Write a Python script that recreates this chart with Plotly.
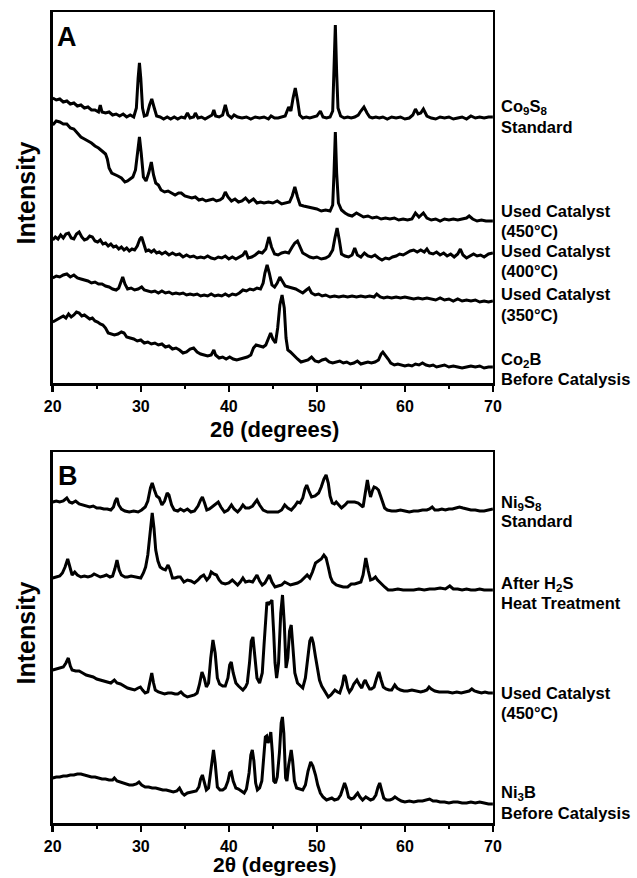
import plotly.graph_objects as go

# ---------------- DATA (2theta, stacked intensity in plot units) ----------------
# Panel A : Co system
co9s8_standard = [
    (20.0, 285), (20.4, 283), (20.8, 284), (21.2, 281), (21.6, 282), (22.0, 279), (22.4, 280), (22.8, 277),
    (23.2, 278), (23.6, 275), (24.0, 276), (24.4, 273), (24.8, 273), (25.2, 271), (25.4, 278), (25.6, 271),
    (26.0, 270), (26.4, 271), (26.8, 268), (27.2, 269), (27.6, 267), (28.0, 269), (28.4, 266), (28.8, 268),
    (29.2, 266), (29.5, 275), (29.7, 305), (29.85, 320), (30.0, 305), (30.2, 275), (30.4, 267), (30.7, 268),
    (31.0, 278), (31.25, 284), (31.5, 276), (31.8, 267), (32.2, 266), (32.6, 264), (33.0, 266), (33.4, 264),
    (33.8, 266), (34.2, 264), (34.6, 266), (35.0, 265), (35.3, 270), (35.6, 265), (36.0, 266), (36.2, 270),
    (36.5, 265), (36.9, 266), (37.3, 264), (37.8, 266), (38.1, 268), (38.3, 273), (38.5, 267), (38.9, 266),
    (39.3, 268), (39.6, 278), (39.9, 268), (40.3, 265), (40.6, 268), (41.0, 266), (41.5, 265), (42.0, 266),
    (42.5, 264), (43.0, 266), (43.5, 265), (44.0, 266), (44.5, 264), (44.8, 267), (45.2, 265), (45.6, 265),
    (46.0, 266), (46.4, 267), (46.8, 276), (47.05, 272), (47.3, 285), (47.55, 295), (47.8, 283), (48.05, 268),
    (48.4, 265), (48.8, 266), (49.2, 265), (49.6, 266), (50.0, 267), (50.4, 272), (50.7, 266), (51.1, 265),
    (51.5, 266), (51.8, 272), (51.95, 310), (52.1, 358), (52.25, 310), (52.4, 275), (52.7, 267), (53.1, 265),
    (53.5, 266), (53.9, 265), (54.3, 266), (54.7, 268), (55.0, 272), (55.35, 276), (55.7, 270), (56.0, 266),
    (56.3, 265), (56.7, 266), (57.1, 265), (57.5, 266), (58.0, 264), (58.5, 266), (59.0, 265), (59.5, 266),
    (60.0, 264), (60.5, 265), (60.9, 268), (61.2, 274), (61.5, 269), (61.8, 270), (62.1, 274), (62.5, 267),
    (63.0, 265), (63.5, 264), (64.0, 266), (64.5, 265), (65.0, 266), (65.5, 264), (66.0, 265), (66.5, 266),
    (67.0, 264), (67.5, 267), (68.0, 265), (68.5, 266), (69.0, 265), (69.5, 266), (70.0, 266),
]

co_used_450 = [
    (20.0, 258), (20.4, 262), (20.8, 261), (21.2, 259), (21.6, 259), (22.0, 255), (22.4, 254), (22.8, 250),
    (23.2, 246), (23.6, 244), (24.0, 242), (24.4, 240), (24.8, 237), (25.2, 235), (25.6, 232), (26.0, 229),
    (26.2, 224), (26.4, 215), (26.7, 210), (27.0, 209), (27.4, 207), (27.8, 205), (28.2, 201), (28.5, 202),
    (28.8, 204), (29.1, 206), (29.4, 213), (29.6, 230), (29.85, 246), (30.05, 230), (30.3, 206), (30.6, 202),
    (30.9, 210), (31.2, 221), (31.45, 208), (31.7, 200), (32.0, 198), (32.3, 193), (32.7, 191), (33.1, 192),
    (33.5, 190), (33.9, 188), (34.3, 190), (34.6, 190), (35.0, 187), (35.4, 186), (35.8, 185), (36.2, 186),
    (36.6, 183), (37.0, 184), (37.4, 182), (37.8, 183), (38.2, 184), (38.6, 182), (39.0, 183), (39.3, 185),
    (39.6, 191), (39.9, 186), (40.3, 182), (40.7, 184), (41.1, 181), (41.5, 182), (41.9, 185), (42.3, 181),
    (42.8, 184), (43.2, 180), (43.6, 181), (44.0, 180), (44.5, 181), (45.0, 180), (45.5, 182), (46.0, 179),
    (46.5, 180), (46.9, 181), (47.2, 187), (47.5, 196), (47.8, 186), (48.1, 178), (48.5, 177), (49.0, 176),
    (49.5, 175), (50.0, 174), (50.5, 172), (51.0, 173), (51.5, 172), (51.8, 178), (51.95, 210), (52.1, 251),
    (52.25, 210), (52.45, 180), (52.8, 173), (53.2, 170), (53.6, 168), (54.0, 167), (54.5, 170), (54.9, 168),
    (55.3, 166), (55.8, 167), (56.3, 165), (56.8, 166), (57.3, 164), (57.8, 165), (58.3, 164), (58.8, 165),
    (59.3, 163), (59.8, 164), (60.3, 163), (60.8, 164), (61.2, 170), (61.6, 166), (62.1, 170), (62.5, 165),
    (63.0, 163), (63.5, 164), (64.0, 162), (64.5, 164), (65.0, 163), (65.5, 164), (66.0, 163), (66.5, 164),
    (67.0, 165), (67.3, 167), (67.7, 164), (68.2, 162), (68.7, 163), (69.2, 162), (70.0, 162),
]

co_used_400 = [
    (20.0, 143), (20.3, 146), (20.6, 144), (20.9, 148), (21.2, 145), (21.5, 149), (21.8, 150), (22.1, 145),
    (22.4, 144), (22.7, 149), (23.0, 151), (23.3, 146), (23.6, 143), (23.9, 144), (24.2, 147), (24.5, 146),
    (24.8, 142), (25.1, 141), (25.4, 143), (25.7, 139), (26.0, 140), (26.3, 137), (26.6, 139), (26.9, 136),
    (27.2, 137), (27.5, 134), (27.8, 136), (28.1, 133), (28.4, 135), (28.7, 132), (29.0, 134), (29.3, 133),
    (29.6, 137), (29.9, 144), (30.1, 146), (30.35, 138), (30.6, 132), (30.9, 133), (31.2, 131), (31.5, 133),
    (31.8, 130), (32.1, 131), (32.4, 129), (32.8, 131), (33.2, 128), (33.6, 130), (34.0, 128), (34.4, 129),
    (34.8, 126), (35.2, 128), (35.6, 126), (36.0, 127), (36.4, 125), (36.8, 126), (37.2, 125), (37.6, 127),
    (38.0, 125), (38.4, 124), (38.8, 126), (39.2, 125), (39.6, 127), (40.0, 124), (40.4, 126), (40.8, 124),
    (41.2, 126), (41.6, 128), (41.9, 132), (42.2, 125), (42.6, 126), (43.0, 128), (43.4, 131), (43.8, 130),
    (44.2, 134), (44.55, 146), (44.85, 136), (45.2, 129), (45.6, 128), (46.0, 130), (46.4, 131), (46.8, 130),
    (47.2, 136), (47.5, 140), (47.8, 142), (48.1, 136), (48.4, 130), (48.8, 128), (49.2, 126), (49.6, 125),
    (50.0, 126), (50.5, 124), (51.0, 125), (51.4, 127), (51.8, 133), (52.05, 145), (52.3, 155), (52.55, 143),
    (52.8, 129), (53.2, 127), (53.6, 126), (54.0, 128), (54.3, 135), (54.6, 128), (55.0, 126), (55.4, 130),
    (55.8, 127), (56.2, 126), (56.6, 128), (57.0, 125), (57.4, 123), (57.8, 125), (58.2, 124), (58.6, 126),
    (59.0, 127), (59.4, 129), (59.8, 128), (60.2, 130), (60.6, 132), (61.0, 133), (61.4, 131), (61.8, 133),
    (62.2, 131), (62.5, 134), (62.8, 130), (63.2, 129), (63.6, 131), (64.0, 128), (64.4, 130), (64.8, 127),
    (65.2, 129), (65.6, 126), (66.0, 129), (66.3, 134), (66.6, 128), (67.0, 125), (67.4, 127), (67.8, 129),
    (68.2, 127), (68.6, 128), (69.0, 126), (69.5, 129), (70.0, 130),
]

co_used_350 = [
    (20.0, 105), (20.4, 107), (20.8, 106), (21.2, 108), (21.6, 109), (22.0, 106), (22.4, 108), (22.8, 105),
    (23.2, 104), (23.6, 103), (24.0, 102), (24.4, 100), (24.8, 101), (25.2, 99), (25.6, 99), (26.0, 97),
    (26.4, 96), (26.8, 94), (27.2, 93), (27.5, 95), (27.75, 102), (27.95, 106), (28.2, 99), (28.5, 94),
    (28.9, 95), (29.3, 93), (29.7, 94), (30.1, 96), (30.4, 93), (30.8, 92), (31.2, 91), (31.6, 92),
    (32.0, 90), (32.4, 92), (32.8, 90), (33.2, 91), (33.6, 89), (34.0, 90), (34.4, 89), (34.8, 90),
    (35.2, 88), (35.6, 89), (36.0, 88), (36.4, 89), (36.8, 87), (37.2, 88), (37.6, 87), (38.0, 89),
    (38.4, 87), (38.8, 88), (39.2, 87), (39.6, 89), (40.0, 87), (40.4, 89), (40.8, 88), (41.2, 90),
    (41.6, 93), (42.0, 92), (42.4, 94), (42.8, 93), (43.2, 95), (43.6, 94), (43.9, 100), (44.1, 110),
    (44.35, 118), (44.6, 110), (44.9, 98), (45.2, 96), (45.5, 100), (45.8, 106), (46.1, 102), (46.4, 97),
    (46.8, 96), (47.2, 95), (47.6, 94), (48.0, 92), (48.4, 90), (48.8, 93), (49.1, 95), (49.4, 90),
    (49.8, 88), (50.2, 89), (50.6, 87), (51.0, 88), (51.5, 86), (52.0, 87), (52.5, 86), (53.0, 87),
    (53.5, 86), (54.0, 87), (54.5, 86), (55.0, 87), (55.5, 86), (56.0, 87), (56.5, 86), (56.8, 89),
    (57.2, 86), (57.6, 85), (58.0, 86), (58.5, 85), (59.0, 86), (59.5, 85), (60.0, 86), (60.5, 85),
    (61.0, 84), (61.5, 85), (62.0, 84), (62.5, 85), (63.0, 84), (63.5, 83), (64.0, 85), (64.5, 83),
    (65.0, 84), (65.5, 82), (66.0, 84), (66.5, 82), (67.0, 83), (67.5, 82), (68.0, 83), (68.5, 81),
    (69.0, 82), (69.5, 81), (70.0, 82),
]

co2b_before = [
    (20.0, 61), (20.4, 63), (20.8, 65), (21.2, 67), (21.5, 65), (21.8, 69), (22.1, 66), (22.4, 68),
    (22.7, 71), (23.0, 70), (23.3, 67), (23.6, 68), (23.9, 66), (24.2, 64), (24.5, 65), (24.8, 62),
    (25.1, 61), (25.4, 59), (25.7, 58), (26.0, 55), (26.3, 50), (26.6, 49), (27.0, 48), (27.4, 49),
    (27.8, 51), (28.1, 50), (28.4, 46), (28.8, 45), (29.2, 44), (29.6, 42), (30.0, 43), (30.4, 40),
    (30.8, 41), (31.2, 39), (31.6, 40), (32.0, 38), (32.4, 39), (32.8, 36), (33.2, 37), (33.6, 34),
    (34.0, 35), (34.4, 33), (34.8, 30), (35.2, 31), (35.6, 34), (36.0, 35), (36.4, 31), (36.8, 29),
    (37.2, 28), (37.6, 27), (38.0, 28), (38.3, 33), (38.5, 28), (38.9, 25), (39.3, 26), (39.7, 24),
    (40.1, 26), (40.5, 24), (40.9, 23), (41.3, 24), (41.7, 25), (42.1, 26), (42.5, 28), (42.8, 35),
    (43.1, 38), (43.5, 37), (43.9, 36), (44.2, 38), (44.5, 45), (44.75, 50), (45.0, 44), (45.3, 40),
    (45.55, 55), (45.8, 78), (46.05, 88), (46.3, 75), (46.5, 45), (46.7, 33), (47.0, 31), (47.4, 27),
    (47.8, 24), (48.2, 21), (48.6, 22), (49.0, 23), (49.4, 26), (49.8, 22), (50.2, 21), (50.6, 23),
    (51.0, 24), (51.4, 21), (51.8, 20), (52.2, 21), (52.6, 22), (53.0, 20), (53.4, 21), (53.8, 19),
    (54.2, 20), (54.6, 22), (55.0, 19), (55.4, 20), (55.8, 21), (56.2, 20), (56.6, 21), (57.0, 23),
    (57.3, 29), (57.5, 31), (57.8, 28), (58.1, 24), (58.4, 20), (58.8, 18), (59.2, 19), (59.6, 18),
    (60.0, 17), (60.4, 18), (60.8, 17), (61.2, 19), (61.6, 18), (62.0, 20), (62.4, 18), (62.8, 17),
    (63.2, 18), (63.6, 16), (64.0, 17), (64.5, 18), (65.0, 16), (65.5, 17), (66.0, 16), (66.5, 15),
    (67.0, 16), (67.5, 17), (68.0, 16), (68.5, 17), (69.0, 15), (69.5, 16), (70.0, 16),
]

# Panel B : Ni system
ni9s8_standard = [
    (20.0, 321), (20.4, 322), (20.8, 321), (21.2, 322), (21.6, 325), (21.9, 321), (22.2, 320), (22.6, 322),
    (23.0, 319), (23.4, 318), (23.8, 317), (24.2, 316), (24.6, 317), (25.0, 315), (25.4, 315), (25.8, 314),
    (26.2, 314), (26.6, 313), (26.9, 316), (27.1, 322), (27.3, 325), (27.5, 318), (27.8, 314), (28.2, 312),
    (28.7, 311), (29.2, 312), (29.7, 311), (30.1, 313), (30.5, 316), (30.8, 322), (31.1, 335), (31.3, 340),
    (31.55, 333), (31.8, 327), (32.1, 325), (32.4, 318), (32.7, 322), (33.0, 330), (33.2, 328), (33.5, 318),
    (33.8, 313), (34.2, 312), (34.5, 314), (34.9, 312), (35.3, 314), (35.7, 311), (36.1, 312), (36.5, 317),
    (36.8, 323), (37.0, 326), (37.25, 320), (37.5, 313), (37.8, 314), (38.1, 316), (38.5, 319), (38.8, 321),
    (39.1, 316), (39.5, 311), (39.9, 313), (40.3, 318), (40.6, 314), (41.0, 311), (41.3, 314), (41.6, 318),
    (41.9, 315), (42.3, 315), (42.7, 317), (43.0, 321), (43.2, 323), (43.5, 318), (43.9, 313), (44.4, 311),
    (44.9, 311), (45.3, 311), (45.6, 311), (46.0, 313), (46.35, 318), (46.7, 315), (47.1, 313), (47.5, 317),
    (47.8, 321), (48.1, 320), (48.4, 325), (48.65, 334), (48.85, 338), (49.1, 332), (49.4, 326), (49.8, 327),
    (50.2, 330), (50.5, 336), (50.8, 344), (51.05, 348), (51.3, 340), (51.5, 327), (51.75, 320), (52.0, 319),
    (52.2, 321), (52.5, 318), (52.8, 315), (53.2, 318), (53.5, 321), (53.9, 321), (54.3, 321), (54.7, 320),
    (55.0, 318), (55.25, 316), (55.5, 330), (55.74, 343), (55.95, 332), (56.1, 326), (56.3, 332), (56.5, 336),
    (56.75, 335), (57.0, 333), (57.2, 328), (57.4, 322), (57.7, 315), (58.0, 313), (58.5, 312), (59.0, 312),
    (59.5, 313), (60.0, 312), (60.5, 311), (61.0, 312), (61.5, 312), (62.0, 313), (62.5, 313), (62.8, 314),
    (63.1, 316), (63.4, 313), (63.8, 313), (64.2, 314), (64.6, 313), (65.0, 314), (65.4, 314), (65.8, 315),
    (66.2, 316), (66.6, 315), (67.0, 314), (67.5, 313), (68.0, 313), (68.5, 312), (69.0, 312), (69.5, 313),
    (70.0, 314),
]

ni_after_h2s = [
    (20.0, 245), (20.4, 246), (20.8, 247), (21.1, 250), (21.4, 256), (21.7, 264), (21.95, 255), (22.2, 248),
    (22.5, 251), (22.8, 248), (23.2, 246), (23.6, 247), (24.0, 246), (24.4, 247), (24.7, 249), (25.0, 248),
    (25.4, 246), (25.8, 247), (26.1, 248), (26.5, 246), (26.8, 247), (27.05, 254), (27.3, 263), (27.55, 253),
    (27.8, 248), (28.2, 246), (28.5, 246), (28.9, 247), (29.3, 246), (29.7, 245), (30.0, 245), (30.3, 250),
    (30.55, 256), (30.8, 268), (31.05, 292), (31.3, 310), (31.5, 295), (31.7, 273), (31.95, 262), (32.2, 256),
    (32.5, 254), (32.8, 253), (33.1, 258), (33.3, 254), (33.6, 245), (33.9, 245), (34.2, 246), (34.5, 246),
    (34.9, 241), (35.3, 243), (35.7, 242), (36.1, 240), (36.5, 243), (36.8, 246), (37.15, 248), (37.5, 243),
    (37.8, 246), (38.0, 251), (38.3, 249), (38.6, 248), (38.9, 243), (39.2, 240), (39.6, 239), (40.0, 240),
    (40.4, 243), (40.7, 240), (41.0, 238), (41.3, 241), (41.6, 245), (41.9, 241), (42.3, 242), (42.7, 241),
    (43.0, 245), (43.2, 248), (43.5, 242), (43.8, 238), (44.1, 240), (44.3, 243), (44.6, 248), (44.9, 241),
    (45.25, 236), (45.6, 237), (46.0, 238), (46.35, 241), (46.7, 239), (47.0, 238), (47.4, 239), (47.8, 240),
    (48.2, 242), (48.5, 245), (48.9, 248), (49.2, 245), (49.5, 251), (49.85, 260), (50.2, 262), (50.5, 264),
    (50.8, 268), (51.05, 265), (51.3, 256), (51.55, 246), (51.8, 241), (52.2, 238), (52.6, 237), (53.0, 236),
    (53.5, 236), (53.9, 239), (54.3, 239), (54.7, 240), (55.0, 241), (55.25, 248), (55.56, 265), (55.85, 252),
    (56.1, 243), (56.4, 244), (56.66, 246), (56.9, 243), (57.3, 239), (57.7, 236), (58.1, 233), (58.6, 233),
    (59.2, 234), (59.8, 233), (60.4, 233), (61.0, 233), (61.6, 234), (62.2, 233), (62.8, 234), (63.4, 234),
    (64.0, 235), (64.6, 234), (65.1, 237), (65.5, 234), (66.0, 234), (66.5, 233), (67.0, 234), (67.5, 233),
    (68.0, 233), (68.5, 234), (69.0, 233), (69.5, 233), (70.0, 233),
]

ni_used_450 = [
    (20.0, 153), (20.4, 154), (20.8, 155), (21.2, 156), (21.5, 160), (21.77, 165), (22.0, 157), (22.2, 153),
    (22.6, 152), (23.0, 152), (23.4, 150), (23.8, 148), (24.2, 147), (24.6, 146), (25.0, 144), (25.4, 143),
    (25.8, 142), (26.2, 141), (26.6, 140), (27.0, 143), (27.3, 140), (27.7, 139), (28.1, 137), (28.5, 135),
    (28.9, 134), (29.3, 133), (29.7, 135), (29.96, 136), (30.2, 133), (30.5, 130), (30.8, 131), (31.05, 140),
    (31.25, 150), (31.45, 140), (31.65, 133), (32.0, 131), (32.3, 130), (32.7, 129), (33.1, 130), (33.5, 130),
    (33.9, 129), (34.2, 129), (34.56, 131), (34.9, 128), (35.3, 126), (35.7, 127), (36.1, 128), (36.4, 130),
    (36.65, 138), (36.95, 151), (37.2, 145), (37.45, 136), (37.7, 140), (37.95, 165), (38.2, 183), (38.45, 170),
    (38.7, 145), (38.95, 139), (39.3, 137), (39.6, 137), (39.9, 145), (40.1, 158), (40.28, 161), (40.5, 150),
    (40.8, 140), (41.1, 137), (41.4, 134), (41.6, 133), (41.9, 136), (42.1, 140), (42.35, 160), (42.55, 182),
    (42.74, 186), (42.95, 170), (43.2, 145), (43.5, 140), (43.8, 150), (44.0, 178), (44.2, 210), (44.33, 221),
    (44.5, 218), (44.6, 220), (44.75, 221), (44.9, 223), (45.1, 190), (45.25, 160), (45.43, 145), (45.65, 160),
    (45.9, 210), (46.1, 228), (46.3, 200), (46.5, 155), (46.7, 165), (46.9, 192), (47.09, 198), (47.3, 175),
    (47.5, 150), (47.8, 140), (48.1, 137), (48.4, 135), (48.7, 145), (48.95, 165), (49.2, 182), (49.4, 186),
    (49.6, 180), (49.85, 166), (50.05, 155), (50.3, 143), (50.55, 137), (50.8, 133), (51.1, 129), (51.3, 126),
    (51.6, 128), (51.85, 131), (52.05, 133), (52.35, 131), (52.6, 130), (52.9, 138), (53.1, 148), (53.25, 146),
    (53.5, 135), (53.7, 131), (53.95, 134), (54.2, 139), (54.55, 143), (54.85, 138), (55.1, 135), (55.35, 141),
    (55.5, 143), (55.75, 138), (56.0, 134), (56.2, 134), (56.5, 136), (56.8, 145), (57.05, 151), (57.3, 143),
    (57.55, 136), (57.85, 134), (58.2, 133), (58.5, 133), (58.85, 138), (59.1, 135), (59.5, 133), (59.9, 132),
    (60.3, 132), (60.8, 133), (61.3, 132), (61.8, 131), (62.2, 132), (62.5, 133), (62.75, 136), (63.0, 134),
    (63.4, 132), (63.9, 131), (64.4, 131), (64.9, 131), (65.4, 130), (65.9, 131), (66.4, 130), (66.9, 131),
    (67.3, 132), (67.6, 134), (67.9, 132), (68.3, 131), (68.7, 130), (69.1, 131), (69.5, 130), (70.0, 130),
]

ni3b_before = [
    (20.0, 45), (20.4, 46), (20.8, 46), (21.2, 47), (21.6, 47), (22.0, 48), (22.4, 48), (22.8, 49),
    (23.2, 49), (23.6, 48), (24.0, 47), (24.4, 46), (24.8, 46), (25.2, 45), (25.6, 44), (26.0, 44),
    (26.4, 43), (26.8, 43), (27.0, 45), (27.3, 42), (27.6, 41), (27.9, 40), (28.3, 39), (28.7, 38),
    (29.1, 38), (29.5, 39), (29.8, 41), (30.1, 38), (30.5, 36), (30.9, 36), (31.3, 35), (31.7, 35),
    (32.1, 34), (32.5, 33), (32.9, 33), (33.3, 32), (33.7, 31), (34.1, 32), (34.4, 35), (34.7, 30),
    (34.95, 28), (35.3, 30), (35.7, 31), (36.0, 31), (36.3, 32), (36.6, 36), (36.8, 44), (37.0, 48),
    (37.2, 42), (37.45, 33), (37.7, 35), (37.95, 55), (38.15, 70), (38.26, 73), (38.45, 60), (38.7, 36),
    (39.0, 33), (39.3, 33), (39.6, 35), (39.9, 42), (40.1, 50), (40.28, 51), (40.5, 42), (40.8, 35),
    (41.1, 34), (41.4, 32), (41.75, 30), (42.0, 34), (42.3, 50), (42.5, 68), (42.67, 73), (42.85, 62),
    (43.05, 40), (43.25, 33), (43.5, 35), (43.75, 42), (43.95, 65), (44.15, 86), (44.3, 87), (44.45, 80),
    (44.6, 83), (44.77, 91), (44.95, 70), (45.1, 42), (45.3, 40), (45.5, 46), (45.75, 70), (45.95, 100),
    (46.09, 106), (46.25, 90), (46.45, 45), (46.6, 42), (46.8, 58), (47.0, 72), (47.09, 73), (47.25, 62),
    (47.45, 42), (47.7, 35), (48.0, 34), (48.4, 33), (48.7, 38), (49.0, 52), (49.3, 61), (49.55, 57),
    (49.85, 48), (50.1, 38), (50.4, 30), (50.7, 26), (51.1, 23), (51.4, 24), (51.7, 25), (52.0, 23),
    (52.4, 24), (52.7, 28), (52.95, 35), (53.15, 40), (53.35, 35), (53.6, 26), (53.9, 24), (54.2, 25),
    (54.45, 28), (54.64, 30), (54.9, 26), (55.2, 23), (55.56, 26), (55.85, 24), (56.1, 23), (56.4, 24),
    (56.7, 28), (56.95, 36), (57.14, 40), (57.35, 33), (57.6, 25), (57.9, 23), (58.3, 23), (58.6, 24),
    (58.87, 26), (59.2, 24), (59.6, 22), (60.0, 21), (60.5, 22), (61.0, 21), (61.5, 22), (62.0, 22),
    (62.4, 23), (62.8, 24), (63.2, 22), (63.6, 22), (64.0, 21), (64.5, 21), (65.0, 20), (65.5, 21),
    (66.0, 21), (66.5, 20), (67.0, 20), (67.5, 21), (68.0, 20), (68.5, 21), (69.0, 20), (69.5, 19),
    (70.0, 19),
]

panel_a_series = [co9s8_standard, co_used_450, co_used_400, co_used_350, co2b_before]
panel_b_series = [ni9s8_standard, ni_after_h2s, ni_used_450, ni3b_before]

x_ticks = [20, 30, 40, 50, 60, 70]

# labels: (text, pixel y of line centre)
labels_a = [
    ("Co<sub>9</sub>S<sub>8</sub>", 107), ("Standard", 127),
    ("Used Catalyst", 211), ("(450°C)", 231),
    ("Used Catalyst", 251), ("(400°C)", 271),
    ("Used Catalyst", 294), ("(350°C)", 315),
    ("Co<sub>2</sub>B", 360), ("Before Catalysis", 379),
]
labels_b = [
    ("Ni<sub>9</sub>S<sub>8</sub>", 503), ("Standard", 521),
    ("After H<sub>2</sub>S", 584), ("Heat Treatment", 603),
    ("Used Catalyst", 693), ("(450°C)", 713),
    ("Ni<sub>3</sub>B", 793), ("Before Catalysis", 813),
]

# ---------------- FIGURE ----------------
W, H = 637, 878
FONT = "Liberation Sans, Arial, sans-serif"
X0, X1 = 45, 498
A_TOP, A_BOT = 12, 383
B_TOP, B_BOT = 452, 823


def fy(py):
    return (H - py) / H


def fx(px):
    return px / W


fig = go.Figure()
for s in panel_a_series:
    xs, ys = zip(*s)
    fig.add_trace(go.Scatter(x=list(xs), y=list(ys), mode="lines", xaxis="x", yaxis="y",
                             line=dict(color="black", width=3), showlegend=False, hoverinfo="skip"))
for s in panel_b_series:
    xs, ys = zip(*s)
    fig.add_trace(go.Scatter(x=list(xs), y=list(ys), mode="lines", xaxis="x2", yaxis="y2",
                             line=dict(color="black", width=3), showlegend=False, hoverinfo="skip"))

xax = dict(range=[20, 70], showline=True, linewidth=2.5, linecolor="black", mirror=True,
           ticks="outside", ticklen=6, tickwidth=2.5, tickcolor="black",
           tickvals=x_ticks, ticktext=[str(v) for v in x_ticks],
           tickfont=dict(family=FONT, size=16, color="black", weight="bold"),
           ticklabelstandoff=1,
           showgrid=False, zeroline=False,
           minor=dict(ticks="outside", ticklen=3, tickwidth=2, dtick=5, tick0=20,
                      tickcolor="black", showgrid=False))
yax = dict(range=[0, 371], showline=True, linewidth=2.5, linecolor="black", mirror=True,
           ticks="", showticklabels=False, showgrid=False, zeroline=False)

fig.update_layout(
    width=W, height=H, margin=dict(l=0, r=0, t=0, b=0), autosize=False,
    paper_bgcolor="white", plot_bgcolor="white",
    font=dict(family=FONT, color="black"),
    xaxis=dict(xax, domain=[fx(X0), fx(X1)], anchor="y"),
    yaxis=dict(yax, domain=[fy(A_BOT), fy(A_TOP)], anchor="x"),
    xaxis2=dict(xax, domain=[fx(X0), fx(X1)], anchor="y2"),
    yaxis2=dict(yax, domain=[fy(B_BOT), fy(B_TOP)], anchor="x2"),
)

ann = []


def add_text(text, px, py, size, xanchor="center", angle=0):
    ann.append(dict(text=text, x=fx(px), y=fy(py), xref="paper", yref="paper",
                    xanchor=xanchor, yanchor="middle", showarrow=False, textangle=angle,
                    font=dict(family=FONT, size=size, color="black", weight="bold")))


add_text("A", 60, 37, 27)
add_text("B", 61, 476, 27)
add_text("Intensity", 18, 193, 25, angle=-90)
add_text("Intensity", 18, 633, 25, angle=-90)
add_text("2θ (degrees)", 273, 429, 22)
add_text("2θ (degrees)", 273, 864, 21)
for t, py in labels_a + labels_b:
    add_text(t, 504, py, 16.5, xanchor="left")

fig.update_layout(annotations=ann)
fig.write_html("out.html", config={"displayModeBar": False, "staticPlot": True},
               post_script="document.body.style.margin='0';document.body.style.overflow='hidden';")
